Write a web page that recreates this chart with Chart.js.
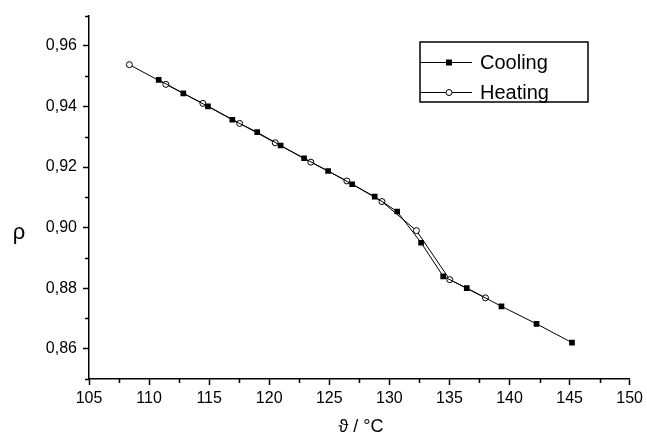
<!DOCTYPE html>
<html>
<head>
<meta charset="utf-8">
<script src="https://cdn.jsdelivr.net/npm/chart.js@4/dist/chart.umd.min.js"></script>
<style>
html,body{margin:0;padding:0;background:#fff;}
canvas{display:block;}
</style>
</head>
<body>
<canvas id="c" width="647" height="438"></canvas>
<script>
// ---- data ----
const coolingT   = [110.8, 112.85, 114.9, 116.93, 119.0, 120.95, 122.9, 124.9, 126.9, 128.78, 130.65, 132.64, 134.48, 136.44, 139.33, 142.25, 145.2];
const coolingRho = [0.9488, 0.9443, 0.9400, 0.9356, 0.9315, 0.9271, 0.9229, 0.9187, 0.9143, 0.9102, 0.9053, 0.8950, 0.8839, 0.8800, 0.8740, 0.8682, 0.8620];
const heatingT   = [108.36, 111.4, 114.48, 117.54, 120.5, 123.46, 126.46, 129.38, 132.25, 135.03, 138.0];
const heatingRho = [0.9538, 0.9473, 0.9410, 0.9344, 0.9280, 0.9216, 0.9154, 0.9086, 0.8990, 0.8828, 0.8768];
const xTicks      = [105, 110, 115, 120, 125, 130, 135, 140, 145, 150];
const xMinorTicks = [107.5, 112.5, 117.5, 122.5, 127.5, 132.5, 137.5, 142.5, 147.5];
const yTicks      = [0.86, 0.88, 0.90, 0.92, 0.94, 0.96];
const yMinorTicks = [0.85, 0.87, 0.89, 0.91, 0.93, 0.95, 0.97];
const seriesLabels = ['Cooling', 'Heating'];
const xTitle = 'ϑ / °C';
const yTitle = 'ρ';

const FONT = '"Liberation Sans", Arial, sans-serif';

const toPts = (xs, ys) => xs.map((x, i) => ({x: x, y: ys[i]}));

const extras = {
  id: 'extras',
  afterDraw(chart) {
    const ctx = chart.ctx;
    const xs = chart.scales.x, ys = chart.scales.y;
    const a = chart.chartArea;
    ctx.save();
    ctx.strokeStyle = '#000';
    ctx.lineWidth = 1.5;
    // minor ticks
    ctx.beginPath();
    yMinorTicks.forEach(v => {
      const p = Math.round(ys.getPixelForValue(v)) + 0.5;
      ctx.moveTo(a.left - 4, p); ctx.lineTo(a.left, p);
    });
    xMinorTicks.forEach(v => {
      const p = Math.round(xs.getPixelForValue(v)) + 0.5;
      ctx.moveTo(p, a.bottom); ctx.lineTo(p, a.bottom + 4);
    });
    ctx.stroke();

    // axis titles
    ctx.fillStyle = '#000';
    ctx.textAlign = 'center';
    ctx.textBaseline = 'alphabetic';
    ctx.font = '22px ' + FONT;
    ctx.fillText(yTitle, 19, 239);
    ctx.font = '18px ' + FONT;
    ctx.fillText(xTitle, 361, 432);

    // legend box
    const bx = 420, by = 42, bw = 168, bh = 60;
    ctx.lineWidth = 1.5;
    ctx.strokeRect(bx, by, bw, bh);
    const rows = [62, 92];
    chart.data.datasets.forEach((ds, i) => {
      const y = rows[i];
      ctx.lineWidth = 1;
      ctx.strokeStyle = '#000';
      ctx.beginPath();
      ctx.moveTo(bx, y + 0.5); ctx.lineTo(bx + 52, y + 0.5);
      ctx.stroke();
      const mx = bx + 29;
      if (ds.pointStyle === 'rect') {
        ctx.fillStyle = '#000';
        ctx.fillRect(mx - 3, y - 2.5, 6, 6);
      } else {
        ctx.beginPath();
        ctx.arc(mx, y + 0.5, 3, 0, Math.PI * 2);
        ctx.fillStyle = '#fff';
        ctx.fill();
        ctx.stroke();
      }
      ctx.fillStyle = '#000';
      ctx.textAlign = 'left';
      ctx.textBaseline = 'middle';
      ctx.font = '20px ' + FONT;
      ctx.fillText(ds.label, bx + 60, y + 1);
    });
    ctx.restore();
  }
};

new Chart(document.getElementById('c'), {
  type: 'scatter',
  data: {
    datasets: [
      {
        label: seriesLabels[0],
        data: toPts(coolingT, coolingRho),
        showLine: true,
        borderColor: '#000',
        borderWidth: 1,
        backgroundColor: '#000',
        pointStyle: 'rect',
        pointRadius: 4,
        pointBorderWidth: 0,
        pointBackgroundColor: '#000',
        tension: 0
      },
      {
        label: seriesLabels[1],
        data: toPts(heatingT, heatingRho),
        showLine: true,
        borderColor: '#000',
        borderWidth: 1,
        backgroundColor: '#fff',
        pointStyle: 'circle',
        pointRadius: 3,
        pointBorderWidth: 1,
        pointBorderColor: '#000',
        pointBackgroundColor: '#fff',
        tension: 0
      }
    ]
  },
  options: {
    responsive: false,
    animation: false,
    devicePixelRatio: 1,
    layout: { padding: { left: 0, top: 13, right: 13, bottom: 0 } },
    plugins: { legend: { display: false }, tooltip: { enabled: false } },
    scales: {
      x: {
        type: 'linear',
        min: 105, max: 150,
        afterBuildTicks: s => { s.ticks = xTicks.map(v => ({value: v})); },
        afterFit: s => { s.height = 59; },
        border: { display: true, color: '#000', width: 1.5 },
        grid: { drawOnChartArea: false, drawTicks: true, tickLength: 6, color: '#000', tickWidth: 1.5 },
        ticks: { color: '#000', font: { family: FONT, size: 16 }, padding: 4, maxRotation: 0,
                 callback: v => String(v) }
      },
      y: {
        type: 'linear',
        min: 0.85, max: 0.97,
        afterBuildTicks: s => { s.ticks = yTicks.map(v => ({value: v})); },
        afterFit: s => { s.width = 89; },
        border: { display: true, color: '#000', width: 1.5 },
        grid: { drawOnChartArea: false, drawTicks: true, tickLength: 6, color: '#000', tickWidth: 1.5 },
        ticks: { color: '#000', font: { family: FONT, size: 16 }, padding: 6,
                 callback: v => Number(v).toFixed(2).replace('.', ',') }
      }
    }
  },
  plugins: [extras]
});
</script>
</body>
</html>
